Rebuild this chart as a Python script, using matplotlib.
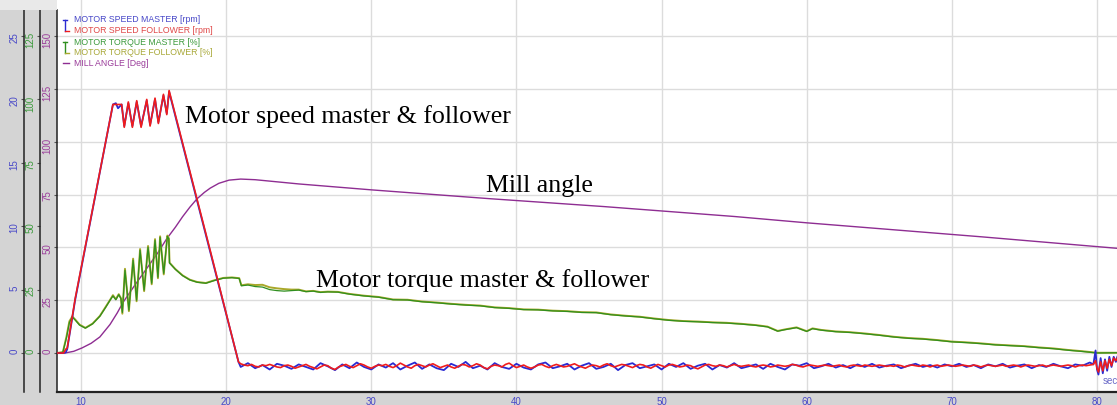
import numpy as np
import matplotlib.pyplot as plt
from matplotlib.lines import Line2D
from matplotlib.patches import Rectangle

W, H = 1117, 405

# ---- data ----
# motor speed [rpm] : start-up, oscillation and ramp down
speed_t = [8.3, 8.8, 8.95, 9.05, 9.6, 12.2, 12.4, 12.55, 12.8, 12.98, 13.26, 13.54,
           13.84, 14.14, 14.53, 14.76, 15.1, 15.33, 15.68, 15.91, 16.07, 18.9, 20.7, 20.85]
speed_master = [0, 0, 0.05, 0.3, 4.2, 19.6, 19.7, 19.3, 19.6, 17.9, 19.7, 17.9,
                19.8, 17.9, 19.9, 18.0, 20.0, 18.2, 20.3, 18.9, 20.6, 8.0, 0, -0.7]
speed_follower = [0, 0, 0.3, 0.4, 4.3, 19.6, 19.6, 19.6, 19.6, 17.8, 19.8, 17.8,
                  19.9, 17.8, 20.0, 17.9, 20.1, 18.1, 20.4, 18.8, 20.7, 8.1, 0, -0.7]

# standstill ripple 21 .. 79.5 s (follower every 0.25 s, master every 0.5 s)
follower_ripple = [
    -0.85, -0.95, -1.0, -0.9, -1.05, -1.1, -0.95, -1.0, -0.9, -1.0, -1.1, -1.15, -1.0, -0.95, -1.05, -1.2, -1.1, -1.0, -0.9, -1.05,
    -1.15, -1.25, -1.1, -0.95, -1.0, -1.2, -1.3, -1.1, -1.0, -0.9, -1.05, -1.15, -1.0, -0.85, -0.95, -1.1, -1.2, -1.05, -0.95, -1.0,
    -0.9, -1.05, -1.15, -1.0, -0.8, -0.95, -1.1, -1.2, -1.0, -0.9, -1.0, -1.1, -0.95, -0.85, -1.0, -1.15, -1.05, -0.95, -1.1, -1.2,
    -1.05, -0.9, -0.95, -1.1, -1.0, -0.85, -0.95, -1.15, -1.25, -1.05, -0.95, -1.0, -1.1, -0.9, -0.8, -1.0, -1.15, -1.05, -0.95, -1.1,
    -1.2, -1.1, -0.95, -0.9, -1.05, -1.15, -1.0, -0.9, -1.0, -1.1, -1.05, -0.95, -0.85, -1.0, -1.1, -1.2, -1.05, -0.95, -1.0, -1.1,
    -0.95, -0.85, -1.0, -1.1, -1.0, -0.9, -0.95, -1.05, -1.15, -1.0, -0.9, -0.95, -1.1, -1.2, -1.05, -0.9, -1.0, -1.1, -0.95, -0.9,
    -1.0, -1.1, -1.05, -0.95, -1.0, -1.15, -1.25, -1.1, -0.95, -0.9, -1.0, -1.05, -0.95, -1.0, -1.1, -1.0, -0.9, -1.0, -1.05, -1.0,
    -0.95, -1.05, -1.1, -1.0, -0.95, -1.0, -1.1, -1.05, -0.95, -1.0, -1.05, -1.0, -0.9, -0.95, -1.05, -1.1, -1.0, -0.95, -1.0, -1.05,
    -1.0, -0.95, -1.0, -1.05, -1.0, -0.95, -1.05, -1.1, -1.0, -0.95, -1.0, -1.05, -0.95, -1.0, -1.05, -1.0, -0.95, -1.0, -1.05, -1.0,
    -1.05, -0.95, -1.0, -1.1, -1.0, -0.95, -1.0, -1.05, -0.95, -1.0, -1.1, -1.0, -0.95, -1.05, -1.0, -0.95, -1.0, -1.05, -1.0, -0.95,
    -1.0, -1.05, -0.95, -1.0, -1.1, -1.0, -0.95, -1.0, -1.05, -1.0, -0.95, -1.05, -1.0, -0.95, -1.0, -1.1, -1.0, -0.95, -1.0, -1.05,
    -1.0, -0.95, -1.05, -1.0, -0.95, -1.0, -1.05, -1.0, -0.95, -1.0, -1.1, -1.0, -0.95, -1.0, -0.95,
]
master_ripple = [
    -1.1, -0.8, -1.2, -0.95, -1.3, -0.85, -1.0, -1.25, -0.9, -1.1, -1.3, -0.8, -1.05, -1.35, -0.9, -1.2, -0.75, -1.1, -1.3, -0.9,
    -1.15, -0.8, -1.3, -1.0, -0.75, -1.25, -0.9, -1.2, -1.35, -0.85, -1.1, -0.7, -1.2, -1.0, -1.3, -0.8, -1.1, -1.25, -0.85, -1.15,
    -1.3, -0.9, -0.75, -1.2, -1.05, -0.85, -1.3, -1.0, -0.8, -1.25, -1.1, -0.85, -1.35, -0.95, -0.8, -1.2, -1.05, -0.9, -1.3, -0.85,
    -1.1, -0.8, -1.25, -1.0, -0.85, -1.3, -0.95, -1.15, -0.8, -1.2, -1.05, -0.9, -1.25, -0.85, -1.1, -1.3, -0.9, -1.0, -0.8, -1.2,
    -1.05, -0.85, -1.15, -0.95, -1.2, -0.9, -1.1, -0.85, -1.15, -1.0, -0.9, -1.2, -1.0, -0.85, -1.1, -0.95, -1.15, -0.9, -1.05, -0.85,
    -1.1, -0.95, -1.2, -0.9, -1.05, -0.85, -1.15, -1.0, -0.9, -1.2, -0.95, -1.1, -0.85, -1.05, -1.2, -0.9, -1.0, -0.75,
]
follower_ripple_t = np.arange(21.0, 79.51, 0.25)
master_ripple_t = np.arange(21.0, 79.51, 0.5)

# restart at the right edge
speed_end_t = [79.75, 79.9, 80.0, 80.1, 80.25, 80.4, 80.55, 80.7, 80.85, 81.0, 81.15, 81.3, 81.4]
master_end = [-0.9, 0.2, -1.3, -1.7, -0.4, -1.6, -0.5, -1.4, -0.3, -1.1, -0.3, -0.7, -0.3]
follower_end = [-0.9, -0.6, -1.2, -1.5, -0.7, -1.4, -0.6, -1.2, -0.5, -1.0, -0.4, -0.6, -0.4]

# motor torque [%]
torque_t = [8.3, 8.75, 9.0, 9.2, 9.4, 9.6, 9.9, 10.3, 10.8, 11.3, 11.7, 12.0, 12.2, 12.4, 12.6,
            12.75, 12.85, 13.03, 13.3, 13.59, 13.83, 14.07, 14.35, 14.62, 14.87, 15.1, 15.3,
            15.45, 15.7, 15.95, 16.05, 16.1, 16.5, 17.0, 17.5, 18.0, 18.6, 19.2, 19.8, 20.4,
            20.9, 21.05, 21.5, 22.0, 22.5, 23.0, 23.5, 24.0, 24.5, 25.0, 25.5, 26.0, 26.5, 27.0,
            27.7, 28.5, 29.5, 30.5, 31.5, 32.5, 33.5, 34.5, 35.5, 36.5, 37.5, 38.5, 39.5, 40.5,
            41.5, 42.5, 43.5, 44.5, 45.5, 46.5, 47.5, 48.5, 49.5, 50.5, 51.5, 52.5, 53.5, 54.5,
            55.5, 56.5, 57.3, 58.0, 58.5, 59.3, 60.0, 60.4, 61.0, 62.0, 63.0, 64.0, 65.0, 66.0,
            67.0, 68.0, 69.0, 70.0, 71.0, 72.0, 73.0, 74.0, 75.0, 76.0, 77.0, 78.0, 79.0, 80.0, 81.4]
torque_master = [0, 0.3, 6, 12, 14.2, 13, 11, 9.8, 11.5, 14.5, 18, 20.8, 22.5, 21, 23,
                 21.5, 16, 32.6, 16.9, 36.6, 20.8, 40.5, 24.8, 41.7, 27.5, 44.4, 29.9,
                 45.6, 31.4, 46, 45, 35.5, 33, 30.5, 28.8, 27.9, 27.5, 28.6, 29.5, 29.7,
                 29.4, 26.5, 26.8, 26.2, 26.0, 25.0, 24.6, 24.4, 24.6, 24.8, 24.2, 24.4, 23.9, 24.1,
                 24.0, 23.2, 22.5, 22.0, 21.0, 20.9, 20.2, 19.8, 19.3, 18.9, 18.6, 17.9, 17.6, 17.1,
                 17.0, 16.6, 16.4, 16.0, 15.9, 15.1, 14.6, 14.2, 13.5, 12.9, 12.5, 12.3, 12.0, 11.8,
                 11.4, 10.9, 10.3, 8.6, 9.2, 10.0, 8.5, 9.6, 9.0, 8.4, 8.1, 7.6, 7.0, 6.3,
                 5.8, 5.5, 5.0, 4.4, 4.1, 3.7, 3.2, 2.9, 2.6, 2.1, 1.7, 1.1, 0.6, 0.0, 0.1]
torque_follower = [0, 0.3, 6.5, 12.5, 14.4, 13.2, 11.2, 9.9, 11.6, 14.6, 18.2, 20.9, 22.8, 21.2, 23.2,
                   21.6, 15.5, 33.2, 16.5, 37.2, 20.4, 41.0, 24.4, 42.2, 27.1, 44.9, 29.5,
                   46.0, 31.0, 46.3, 45.2, 35.6, 33.1, 30.6, 28.9, 28.0, 27.6, 28.7, 29.6, 29.8,
                   29.5, 26.7, 27.1, 26.8, 26.9, 25.9, 25.5, 25.2, 25.0, 25.0, 24.3, 24.5, 24.0, 24.2,
                   24.1, 23.3, 22.6, 22.1, 21.1, 21.0, 20.3, 19.9, 19.4, 19.0, 18.7, 18.0, 17.7, 17.2,
                   17.1, 16.7, 16.5, 16.1, 16.0, 15.2, 14.7, 14.3, 13.6, 13.0, 12.6, 12.4, 12.1, 11.9,
                   11.5, 11.0, 10.4, 8.7, 9.3, 10.1, 8.6, 9.7, 9.1, 8.5, 8.2, 7.7, 7.1, 6.4,
                   5.9, 5.6, 5.1, 4.5, 4.2, 3.8, 3.3, 3.0, 2.7, 2.2, 1.8, 1.2, 0.7, 0.1, 0.1]

# mill angle [deg]
angle_t = [8.3, 8.9, 9.5, 10.07, 10.7, 11.3, 12.0, 12.5, 12.9, 13.7, 14.6, 15.3, 15.9, 16.5,
           17.0, 17.5, 18.0, 18.5, 18.9, 19.5, 20.2, 21.0, 22.0, 25.0, 30.0, 38.2, 46.0, 55.0,
           60.0, 72.0, 81.45]
angle = [0, 0, 0.8, 2.4, 4.6, 7.6, 13.5, 19, 24, 32, 40.7, 47.5, 54, 59.5,
         64.5, 69, 73, 76, 78, 80.3, 81.8, 82.3, 82.0, 80.0, 77.2, 73.0, 69.3, 64.6,
         61.6, 55.0, 49.5]

x_ticks = [10, 20, 30, 40, 50, 60, 70, 80]
speed_ticks = [0, 5, 10, 15, 20, 25]
torque_ticks = [0, 25, 50, 75, 100, 125]
angle_ticks = [0, 25, 50, 75, 100, 125, 150]

legend_labels = ['MOTOR SPEED MASTER [rpm]', 'MOTOR SPEED FOLLOWER [rpm]',
                 'MOTOR TORQUE MASTER [%]', 'MOTOR TORQUE FOLLOWER [%]', 'MILL ANGLE [Deg]']

C_SPEED_M = '#2a2ad2'
C_SPEED_F = '#f01c1c'
C_TORQ_M = '#2f8f1f'
C_TORQ_F = '#a9a82a'
C_ANGLE = '#8e2d92'
LBL_BLUE = '#4848c8'
LBL_GREEN = '#3c9a3c'
LBL_PURPLE = '#9a3c9a'

# ---- layout in pixels ----
X_LEFT, Y_TOP, Y_BOT = 57, 0, 392
PX_PER_S = 1016 / 70.0
T10_X = 81
X_MIN = 10 + (X_LEFT - T10_X) / PX_PER_S
X_MAX = 10 + (W - T10_X) / PX_PER_S
PX_PER_DEG = (353 - 36) / 150.0
A_MIN = -(Y_BOT - 353) / PX_PER_DEG
A_MAX = (353 - Y_TOP) / PX_PER_DEG
A_SPINE_TOP = (353 - 10) / PX_PER_DEG
PT = 72 / 100.0  # points per pixel at dpi 100

fig = plt.figure(figsize=(W / 100, H / 100), dpi=100)
fig.patch.set_facecolor('#d4d4d4')
fig.patches.append(Rectangle((0, 1 - 10 / H), X_LEFT / W, 10 / H, transform=fig.transFigure,
                             facecolor='#e9e9e9', edgecolor='none', zorder=0))

ax = fig.add_axes([X_LEFT / W, (H - Y_BOT) / H, (W - X_LEFT) / W, (Y_BOT - Y_TOP) / H])
ax.set_facecolor('white')
ax.set_xlim(X_MIN, X_MAX)
ax.set_ylim(A_MIN, A_MAX)
ax.set_xticks(x_ticks)
ax.set_yticks(angle_ticks)
ax.grid(True, color='#dcdcdc', linewidth=1.0)
ax.set_axisbelow(True)
for side in ['top', 'right']:
    ax.spines[side].set_visible(False)
ax.spines['bottom'].set_color('#222222')
ax.spines['bottom'].set_linewidth(1.6)
ax.spines['left'].set_color('#222222')
ax.spines['left'].set_linewidth(1.1)
ax.spines['left'].set_bounds(A_MIN, A_SPINE_TOP)
ax.tick_params(axis='x', length=0, pad=3.6, labelsize=7, labelcolor=LBL_BLUE)
ax.tick_params(axis='y', direction='out', length=2.5, width=0.8, color='#555555', pad=1.0,
               labelsize=7, labelcolor=LBL_PURPLE, labelrotation=90)
for lbl in ax.get_yticklabels():
    lbl.set_family('Liberation Sans')
for lbl in ax.get_xticklabels():
    lbl.set_family('Liberation Sans')

ax_torque = ax.twinx()
ax_torque.set_ylim(A_MIN * 5 / 6, A_MAX * 5 / 6)
ax_speed = ax.twinx()
ax_speed.set_ylim(A_MIN / 6, A_MAX / 6)

for tw, offset_px, ticks, col, scale in [(ax_torque, 17, torque_ticks, LBL_GREEN, 5 / 6),
                                         (ax_speed, 33, speed_ticks, LBL_BLUE, 1 / 6)]:
    tw.yaxis.tick_left()
    tw.set_yticks(ticks)
    for side in ['top', 'right', 'bottom']:
        tw.spines[side].set_visible(False)
    tw.spines['left'].set_visible(True)
    tw.spines['left'].set_position(('outward', offset_px * PT))
    tw.spines['left'].set_color('#222222')
    tw.spines['left'].set_linewidth(1.1)
    tw.spines['left'].set_bounds(A_MIN * scale, A_SPINE_TOP * scale)
    tw.tick_params(axis='y', direction='out', length=2.5, width=0.8, color='#555555', pad=1.0,
                   labelsize=7, labelcolor=col, labelrotation=90)
    for lbl in tw.get_yticklabels():
        lbl.set_family('Liberation Sans')

# traces
ax.plot(angle_t, angle, color=C_ANGLE, lw=1.0, zorder=3)
ax_torque.plot(torque_t, torque_follower, color=C_TORQ_F, lw=1.4, zorder=2)
ax_torque.plot(torque_t, torque_master, color=C_TORQ_M, lw=0.9, zorder=3)

sp_m_t = list(speed_t) + list(master_ripple_t) + speed_end_t
sp_m = speed_master + master_ripple + master_end
sp_f_t = list(speed_t) + list(follower_ripple_t) + speed_end_t
sp_f = speed_follower + follower_ripple + follower_end
ax_speed.plot(sp_m_t, sp_m, color=C_SPEED_M, lw=1.3, zorder=2)
ax_speed.plot(sp_f_t, sp_f, color=C_SPEED_F, lw=1.2, zorder=3)

# annotations (data coords of the mill angle axis)
serif = 'Liberation Serif'
ax.text(17.17, 108.8, 'Motor speed master & follower', family=serif, fontsize=18.6,
        va='baseline', ha='left', color='black', zorder=5)
ax.text(37.9, 76.2, 'Mill angle', family=serif, fontsize=18.6,
        va='baseline', ha='left', color='black', zorder=5)
ax.text(26.19, 31.2, 'Motor torque master & follower', family=serif, fontsize=18.6,
        va='baseline', ha='left', color='black', zorder=5)

# legend, top-left inside the plot
legend_cols = [LBL_BLUE, '#e04848', LBL_GREEN, '#a8a838', LBL_PURPLE]
legend_rows = [20, 30.7, 42.3, 52.7, 63.3]
for text, col, yr in zip(legend_labels, legend_cols, legend_rows):
    fig.text(74 / W, 1 - yr / H, text, color=col, fontsize=6.3, family='Liberation Sans',
             va='center', ha='left')


def seg(x0, y0, x1, y1, col):
    fig.add_artist(Line2D([x0 / W, x1 / W], [1 - y0 / H, 1 - y1 / H], color=col, lw=1.0,
                          transform=fig.transFigure))


for top, bot, c_top, c_bot in [(20, 30.7, C_SPEED_M, C_SPEED_F), (42.3, 52.7, C_TORQ_M, C_TORQ_F)]:
    seg(62.5, top, 67, top, c_top)
    seg(64.7, top, 64.7, bot, c_top)
    seg(64.7, bot, 69, bot, c_bot)
seg(63, 63.3, 68.5, 63.3, C_ANGLE)

fig.text(1103 / W, 1 - 381 / H, 'sec', color='#6a6ac8', fontsize=7, family='Liberation Sans',
         va='center', ha='left')

fig.savefig('out.png', dpi=100, facecolor=fig.get_facecolor())
